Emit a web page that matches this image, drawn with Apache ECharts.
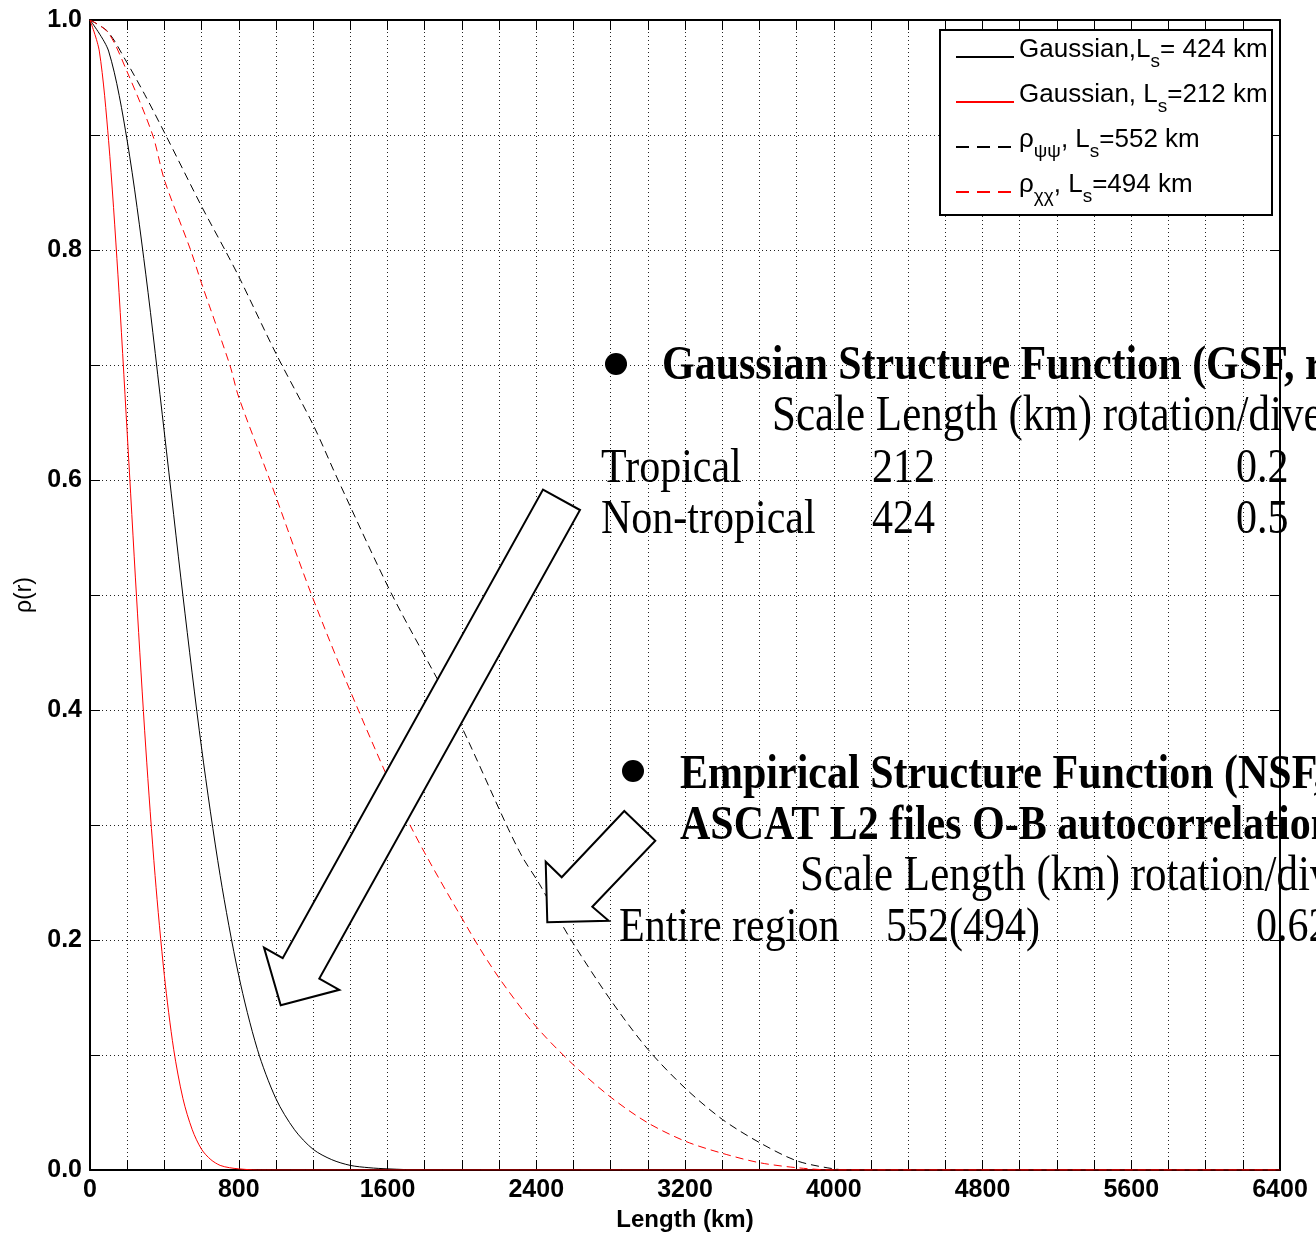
<!DOCTYPE html>
<html>
<head>
<meta charset="utf-8">
<script src="https://cdn.jsdelivr.net/npm/echarts@6/dist/echarts.min.js"></script>
<style>
html,body{margin:0;padding:0;background:#fff;}
#chart{width:1316px;height:1239px;}
</style>
</head>
<body>
<div id="chart"></div>
<script>
// ---- data ----
const gauss424R   = [0,100,200,300,400,500,600,700,800,900,1000,1100,1200,1300,1400,1500,1600,1800,2000,6400];
const gauss424Rho = [1,0.973,0.895,0.779,0.641,0.499,0.367,0.256,0.169,0.105,0.062,0.035,0.018,0.009,0.004,0.002,0.001,0,0,0];

const gauss212R   = [0,50,100,150,200,250,300,350,400,450,500,550,600,650,700,750,800,900,1000,6400];
const gauss212Rho = [1,0.973,0.895,0.779,0.641,0.499,0.367,0.256,0.169,0.105,0.062,0.035,0.018,0.009,0.004,0.002,0.001,0,0,0];

const psiR   = [0,95,188,295,407,600,726,800,1000,1200,1334,1625,1955,2240,2326,2416,2515,2599,2799,3000,3202,3401,3599,3801,4000,4100,6400];
const psiRho = [1,0.990,0.966,0.935,0.900,0.838,0.800,0.777,0.710,0.648,0.600,0.500,0.400,0.300,0.272,0.249,0.220,0.197,0.148,0.105,0.071,0.044,0.024,0.008,0.001,0,0];

const chiR   = [0,98,197,337,400,541,600,752,800,967,1192,1443,1721,2047,2200,2398,2596,2803,3000,3202,3401,3599,3801,4000,6400];
const chiRho = [1,0.989,0.956,0.900,0.861,0.800,0.771,0.700,0.672,0.600,0.500,0.400,0.300,0.206,0.167,0.125,0.092,0.063,0.041,0.025,0.0145,0.0064,0.002,0,0];

const seriesNames = ['Gaussian,Ls= 424 km','Gaussian, Ls=212 km','ρψψ, Ls=552 km','ρχχ, Ls=494 km'];
const legendRich = {
  'Gaussian,Ls= 424 km': '{m|Gaussian,L}{s|s}{m|= 424 km}',
  'Gaussian, Ls=212 km': '{m|Gaussian, L}{s|s}{m|=212 km}',
  'ρψψ, Ls=552 km': '{m|ρ}{s|ψψ}{m|, L}{s|s}{m|=552 km}',
  'ρχχ, Ls=494 km': '{m|ρ}{s|χχ}{m|, L}{s|s}{m|=494 km}'
};

const xMin = 0, xMax = 6400, xStep = 800;
const yMin = 0, yMax = 1, yStep = 0.2;
const xAxisTitle = 'Length (km)';
const yAxisTitle = 'ρ(r)';

function pairs(xs, ys){ return xs.map((x,i)=>[x, ys[i]]); }

const chart = echarts.init(document.getElementById('chart'), null, {renderer:'canvas'});

const gridDot = {color:'#222', width:1, type:[1,3]};
const tickStyle = {color:'#000', width:1};
const curveDash = [8,5];
const legendDash = [13,8];

const serif = 'Liberation Serif';
function txt(x, y, text, bold, size){
  return {
    type:'text', x:x, y:y, scaleY:1.18, z:10,
    style:{text:text, fontSize:size||42, fontFamily:serif, fontWeight:bold?'bold':'normal',
           fill:'#000', align:'left', verticalAlign:'middle'}
  };
}

const option = {
  backgroundColor:'#fff',
  animation:false,
  grid:{left:90, right:36, top:20, bottom:69, containLabel:false},
  xAxis:[{
    type:'value', min:xMin, max:xMax, interval:xStep, position:'bottom',
    name:xAxisTitle, nameLocation:'middle', nameGap:34,
    nameTextStyle:{fontFamily:'Liberation Sans', fontWeight:'bold', fontSize:24, color:'#000'},
    axisLine:{show:true, onZero:false, lineStyle:{color:'#000', width:2}},
    axisTick:{show:true, inside:true, length:10, lineStyle:tickStyle},
    minorTick:{show:true, splitNumber:4, length:10, lineStyle:tickStyle},
    axisLabel:{show:true, margin:8, fontFamily:'Liberation Sans', fontWeight:'bold', fontSize:25, color:'#000',
               formatter:(v)=>String(v)},
    splitLine:{show:true, lineStyle:gridDot},
    minorSplitLine:{show:true, lineStyle:gridDot}
  },{
    type:'value', min:xMin, max:xMax, interval:xStep, position:'top',
    axisLine:{show:true, onZero:false, lineStyle:{color:'#000', width:2}},
    axisTick:{show:true, inside:true, length:10, lineStyle:tickStyle},
    minorTick:{show:true, splitNumber:4, length:10, lineStyle:tickStyle},
    axisLabel:{show:false}, splitLine:{show:false}
  }],
  yAxis:[{
    type:'value', min:yMin, max:yMax, interval:yStep, position:'left',
    name:yAxisTitle, nameLocation:'middle', nameGap:47, nameRotate:90,
    nameTextStyle:{fontFamily:'Liberation Sans', fontSize:23, color:'#000'},
    axisLine:{show:true, onZero:false, lineStyle:{color:'#000', width:2}},
    axisTick:{show:true, inside:true, length:10, lineStyle:tickStyle},
    minorTick:{show:true, splitNumber:2, length:10, lineStyle:tickStyle},
    axisLabel:{show:true, margin:8, fontFamily:'Liberation Sans', fontWeight:'bold', fontSize:25, color:'#000',
               formatter:(v)=>v.toFixed(1)},
    splitLine:{show:true, lineStyle:gridDot},
    minorSplitLine:{show:true, lineStyle:gridDot}
  },{
    type:'value', min:yMin, max:yMax, interval:yStep, position:'right',
    axisLine:{show:true, onZero:false, lineStyle:{color:'#000', width:2}},
    axisTick:{show:true, inside:true, length:10, lineStyle:tickStyle},
    minorTick:{show:true, splitNumber:2, length:10, lineStyle:tickStyle},
    axisLabel:{show:false}, splitLine:{show:false}
  }],
  legend:{
    show:true, orient:'vertical', left:955, top:37, padding:0, itemGap:5,
    itemWidth:58, itemHeight:14, selectedMode:false, z:6,
    itemStyle:{opacity:0},
    data:[
      {name:seriesNames[0]},
      {name:seriesNames[1]},
      {name:seriesNames[2], lineStyle:{type:legendDash}},
      {name:seriesNames[3], lineStyle:{type:legendDash}}
    ],
    formatter:(name)=>legendRich[name],
    textStyle:{
      fontFamily:'Liberation Sans', fontSize:26, color:'#000',
      rich:{
        m:{fontFamily:'Liberation Sans', fontSize:26, lineHeight:26, padding:[0,0,14,0], color:'#000'},
        s:{fontFamily:'Liberation Sans', fontSize:19, lineHeight:19, padding:[9,0,0,0], color:'#000'}
      }
    }
  },
  series:[
    {name:seriesNames[0], type:'line', data:pairs(gauss424R, gauss424Rho), showSymbol:false, symbol:'none',
     smooth:0.3, lineStyle:{color:'#000', width:1, type:'solid'}, itemStyle:{color:'#000'}, z:2},
    {name:seriesNames[1], type:'line', data:pairs(gauss212R, gauss212Rho), showSymbol:false, symbol:'none',
     smooth:0.3, lineStyle:{color:'#ff0000', width:1, type:'solid'}, itemStyle:{color:'#ff0000'}, z:5},
    {name:seriesNames[2], type:'line', data:pairs(psiR, psiRho), showSymbol:false, symbol:'none',
     smooth:0.3, lineStyle:{color:'#000', width:1, type:curveDash}, itemStyle:{color:'#000'}, z:3},
    {name:seriesNames[3], type:'line', data:pairs(chiR, chiRho), showSymbol:false, symbol:'none',
     smooth:0.3, lineStyle:{color:'#ff0000', width:1, type:curveDash}, itemStyle:{color:'#ff0000'}, z:4}
  ],
  graphic:[
    {type:'rect', z:5, shape:{x:940, y:30, width:332, height:185},
     style:{fill:'#fff', stroke:'#000', lineWidth:2}},
    // big arrow
    {type:'polygon', z:8, shape:{points:[[543,489.6],[580,510],[319.3,978.5],[339.3,989.8],[280.7,1005.2],[264,947.6],[282.7,958.2]]},
     style:{fill:'#fff', stroke:'#000', lineWidth:2}},
    // small arrow
    {type:'polygon', z:8, shape:{points:[[624.3,811],[655.3,840.7],[592.3,906.7],[608.7,920.7],[547.3,922.3],[545.7,861.7],[561.7,877.3]]},
     style:{fill:'#fff', stroke:'#000', lineWidth:2}},
    {type:'circle', z:10, shape:{cx:616, cy:364, r:11}, style:{fill:'#000'}},
    {type:'circle', z:10, shape:{cx:633, cy:771, r:11}, style:{fill:'#000'}},
    txt(662, 366, 'Gaussian Structure Function (GSF, rotation/divergence)', true),
    txt(772, 417, 'Scale Length (km) rotation/divergence', false, 43),
    txt(601, 469, 'Tropical', false),
    txt(872, 469, '212', false),
    txt(1236, 469, '0.2', false),
    txt(601, 520, 'Non-tropical', false),
    txt(872, 520, '424', false),
    txt(1236, 520, '0.5', false),
    txt(680, 775, 'Empirical Structure Function (NSF,', true),
    txt(680, 826, 'ASCAT L2 files O-B autocorrelation)', true),
    txt(800, 877, 'Scale Length (km) rotation/divergence', false, 43),
    txt(619, 928, 'Entire region', false),
    txt(886, 928, '552(494)', false),
    txt(1256, 928, '0.62', false)
  ]
};
chart.setOption(option);
</script>
</body>
</html>
